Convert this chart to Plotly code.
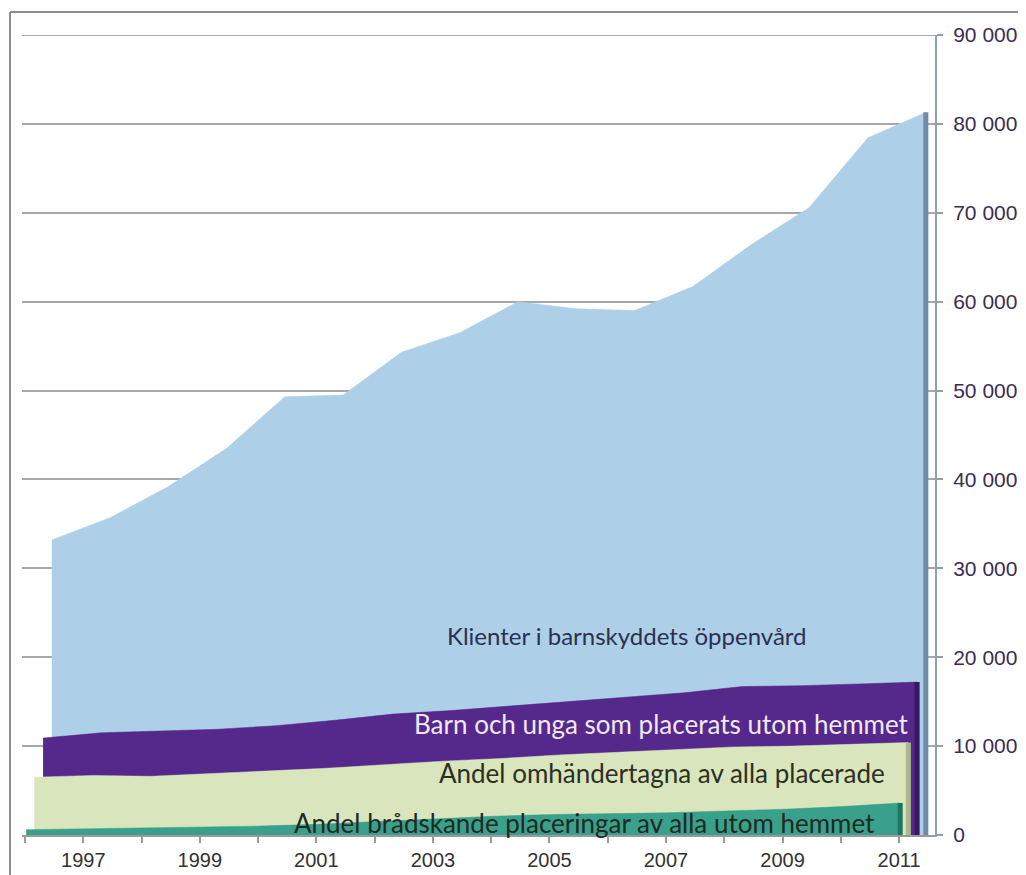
import plotly.graph_objects as go

# ---------------- data ----------------
years = list(range(1996, 2012))
klienter = [33200, 35700, 39200, 43500, 49300, 49500, 54300, 56500,
            60000, 59200, 59000, 61700, 66400, 70600, 78400, 81300]
placerade = [10900, 11500, 11700, 11900, 12300, 12900, 13600, 14000,
             14500, 15000, 15500, 16000, 16700, 16800, 17000, 17200]
omhandertagna = [6500, 6700, 6600, 6900, 7200, 7500, 7900, 8300,
                 8600, 9000, 9300, 9600, 9900, 10000, 10200, 10400]
bradskande = [600, 700, 800, 900, 1000, 1200, 1500, 1800,
              2100, 2300, 2400, 2500, 2700, 2900, 3200, 3600]

x_tick_years = years
x_tick_labels = [str(y) if y % 2 == 1 else "" for y in years]
y_tick_vals = [0, 10000, 20000, 30000, 40000, 50000, 60000, 70000, 80000, 90000]
y_tick_labels = ["0", "10 000", "20 000", "30 000", "40 000",
                 "50 000", "60 000", "70 000", "80 000", "90 000"]
y_max = 90000

# ---------------- style / layout constants ----------------
# the page body has an 8px margin, so the figure is drawn from (8, 8)
OFF = 8
W, H = 1026 - OFF, 875 - OFF
ML, MT = 22 - OFF, 35 - OFF
PW, PH = 913, 800
MR, MB = W - ML - PW, H - MT - PH
px_per_year = 58.27
x0 = 1996 - 3 / px_per_year
x1 = 1996 + 910 / px_per_year

series = [
    # name, values, depth offset (years), fill, side colour
    ("Klienter i barnskyddets öppenvård", klienter, 0.46, "#aecfe8", "#6f8ca6"),
    ("Barn och unga som placerats utom hemmet", placerade, 0.31, "#55288b", "#391862"),
    ("Andel omhändertagna av alla placerade", omhandertagna, 0.16, "#d8e5bd", "#a9b98d"),
    ("Andel brådskande placeringar av alla utom hemmet", bradskande, 0.02, "#38a08b", "#1f7563"),
]

fig = go.Figure()

# top gridline (at the range edge)
fig.add_shape(type="line", xref="paper", yref="y", x0=0, x1=1, y0=y_max, y1=y_max,
              line=dict(color="#a8a8a8", width=2), layer="below")

for name, vals, off, fill, side in series:
    xs = [y + off for y in years]
    fig.add_trace(go.Scatter(
        x=xs, y=vals, mode="lines", name=name,
        line=dict(width=0.5, color=fill), fill="tozeroy", fillcolor=fill,
        hoverinfo="skip", showlegend=False))
    fig.add_trace(go.Scatter(
        x=[xs[-1], xs[-1]], y=[0, vals[-1]], mode="lines",
        line=dict(width=5, color=side), hoverinfo="skip", showlegend=False))

labels = [
    ("Klienter i barnskyddets öppenvård", 2006.33, 22400, "center", "#2b3052", 24),
    ("Barn och unga som placerats utom hemmet", 2011.2, 12500, "right", "#f1e9f8", 26),
    ("Andel omhändertagna av alla placerade", 2010.8, 6980, "right", "#2d301f", 26),
    ("Andel brådskande placeringar av alla utom hemmet", 2010.62, 1350, "right", "#1f2a22", 26),
]
for text, lx, ly, anchor, col, size in labels:
    fig.add_annotation(x=lx, y=ly, text=text, showarrow=False, xanchor=anchor,
                       yanchor="middle", font=dict(family="Lato", size=size, color=col))

# outer frame (partial, as in the cropped reference)
def px_to_paper_x(px):
    return (px - OFF - ML) / PW

def px_to_paper_y(py):
    return (MT + PH - (py - OFF)) / PH

fig.add_shape(type="line", xref="paper", yref="paper",
              x0=px_to_paper_x(10), y0=px_to_paper_y(12),
              x1=px_to_paper_x(1030), y1=px_to_paper_y(12),
              line=dict(color="#8e8e8e", width=2), layer="above")
fig.add_shape(type="line", xref="paper", yref="paper",
              x0=px_to_paper_x(10), y0=px_to_paper_y(12),
              x1=px_to_paper_x(10), y1=px_to_paper_y(880),
              line=dict(color="#8e8e8e", width=2), layer="above")

fig.update_layout(
    width=W, height=H,
    margin=dict(l=ML, r=MR, t=MT, b=MB, autoexpand=False),
    paper_bgcolor="white", plot_bgcolor="white",
    showlegend=False,
    xaxis=dict(range=[x0, x1], tickmode="array", tickvals=x_tick_years,
               ticktext=x_tick_labels, ticks="outside", ticklen=6,
               tickcolor="#9a9a9a", tickwidth=2, showgrid=False, zeroline=False,
               showline=True, linecolor="#9a9a9a", linewidth=2, automargin=False,
               tickfont=dict(family="Liberation Sans", size=20, color="#333333")),
    yaxis=dict(range=[0, y_max], side="right", tickmode="array",
               tickvals=y_tick_vals, ticktext=y_tick_labels,
               ticks="outside", ticklen=6, tickcolor="#8fa0b0", tickwidth=2,
               showgrid=True, gridcolor="#a8a8a8", gridwidth=2, zeroline=False,
               showline=True, linecolor="#8fa0b0", linewidth=2, automargin=False,
               ticklabelstandoff=6,
               tickfont=dict(family="Liberation Sans", size=21, color="#3b2d52")),
)

fig.write_html("out.html")
